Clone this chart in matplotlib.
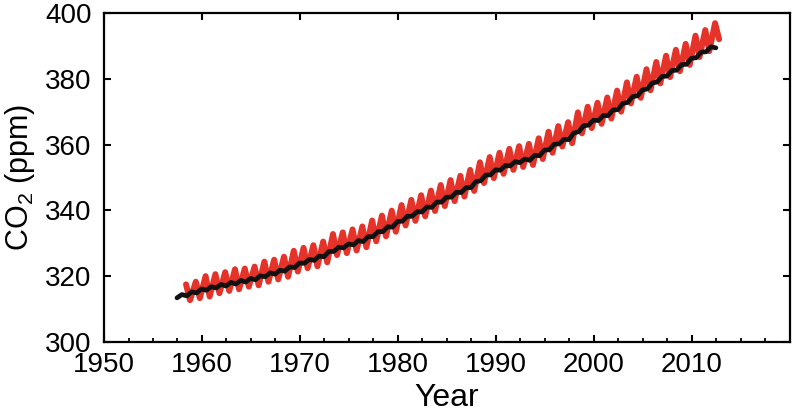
import matplotlib
matplotlib.use("Agg")
import matplotlib.pyplot as plt
from matplotlib.ticker import MultipleLocator

plt.rcParams['font.family'] = ['Liberation Sans', 'DejaVu Sans']
plt.rcParams['mathtext.fontset'] = 'custom'
plt.rcParams['mathtext.rm'] = 'Liberation Sans'
plt.rcParams['mathtext.it'] = 'Liberation Sans'

# Mauna Loa (red): yearly seasonal maximum (~May) and minimum (~Oct), ppm
ml_years = list(range(1958, 2013))
ml_peak = [317.5, 318.3, 320.0, 320.6, 321.2, 322.1, 322.3, 322.9, 324.4, 325.0,
           325.9, 327.7, 328.6, 329.4, 330.5, 332.8, 333.3, 334.2, 335.1, 336.9,
           338.4, 339.9, 341.6, 343.2, 344.6, 346.0, 347.7, 349.2, 350.5, 352.3,
           354.6, 356.2, 357.5, 358.7, 359.5, 360.2, 361.9, 363.9, 365.6, 366.8,
           369.8, 371.5, 372.7, 374.3, 376.4, 378.9, 380.6, 382.9, 385.1, 387.0,
           388.8, 390.6, 393.1, 394.8, 396.9]
ml_trough = [312.7, 313.3, 313.8, 314.8, 315.5, 316.0, 316.8, 317.2, 318.3, 319.0,
             319.8, 321.4, 322.4, 323.0, 324.2, 326.4, 327.0, 327.8, 328.8, 330.6,
             332.1, 333.5, 335.4, 336.8, 338.2, 339.8, 341.3, 342.8, 344.2, 345.9,
             348.3, 349.8, 351.1, 352.3, 353.2, 353.8, 355.6, 357.5, 359.4, 360.4,
             363.4, 365.0, 366.3, 367.9, 370.0, 372.5, 374.2, 376.5, 378.6, 380.5,
             382.3, 384.2, 386.6, 388.4, 392.0]

# South Pole (black): yearly low and high of the small seasonal wiggle, ppm
sp_years = list(range(1957, 2013))
sp_low = [313.4, 314.0, 314.9, 315.7, 316.4, 317.0, 317.6, 318.2, 318.9, 319.8,
          320.6, 321.5, 322.6, 323.9, 324.8, 325.9, 327.5, 328.6, 329.5, 330.5,
          332.0, 333.5, 334.9, 336.7, 338.2, 339.5, 340.9, 342.5, 344.0, 345.4,
          346.9, 349.0, 350.8, 352.2, 353.5, 354.5, 355.2, 356.6, 358.4, 360.2,
          361.5, 363.9, 365.9, 367.3, 368.8, 370.6, 372.8, 374.8, 376.9, 379.0,
          380.8, 382.6, 384.4, 386.4, 388.2, 389.4]
sp_high = [314.4, 315.2, 316.1, 316.8, 317.5, 318.1, 318.7, 319.3, 320.1, 321.0,
           321.8, 322.8, 324.0, 325.1, 326.1, 327.5, 328.8, 329.8, 330.8, 332.0,
           333.5, 335.0, 336.6, 338.2, 339.6, 341.0, 342.5, 344.0, 345.5, 346.9,
           348.7, 350.7, 352.3, 353.6, 354.8, 355.6, 356.7, 358.3, 360.1, 361.6,
           363.5, 365.7, 367.4, 368.8, 370.5, 372.5, 374.6, 376.6, 378.7, 380.7,
           382.5, 384.3, 386.2, 388.1, 389.7]

ML_PEAK_PHASE, ML_TROUGH_PHASE = 0.37, 0.78
SP_LOW_PHASE, SP_HIGH_PHASE = 0.45, 0.95

ml_t, ml_v = [], []
for y, p, t in zip(ml_years, ml_peak, ml_trough):
    ml_t += [y + ML_PEAK_PHASE, y + ML_TROUGH_PHASE]
    ml_v += [p, t]

sp_t, sp_v = [], []
for i, y in enumerate(sp_years):
    sp_t.append(y + SP_LOW_PHASE)
    sp_v.append(sp_low[i])
    if i < len(sp_high):
        sp_t.append(y + SP_HIGH_PHASE)
        sp_v.append(sp_high[i])

fig = plt.figure(figsize=(7.97, 4.18), dpi=100)
ax = fig.add_axes([0.1305, 0.182, 0.8605, 0.787])

ax.plot(ml_t, ml_v, color='#e5332a', lw=4.3, solid_joinstyle='round',
        solid_capstyle='round')
ax.plot(sp_t, sp_v, color='#111111', lw=3.4, solid_joinstyle='round',
        solid_capstyle='round')

ax.set_xlim(1950, 2020)
ax.set_ylim(300, 400)
ax.set_xticks([1950, 1960, 1970, 1980, 1990, 2000, 2010])
ax.set_yticks([300, 320, 340, 360, 380, 400])
ax.xaxis.set_minor_locator(MultipleLocator(2.5))

for s in ax.spines.values():
    s.set_linewidth(1.6)

ax.tick_params(axis='both', which='major', direction='in', length=5, width=1.5,
               labelsize=20)
ax.tick_params(axis='x', which='major', top=True, pad=7)
ax.tick_params(axis='y', which='major', right=True, pad=9)
ax.tick_params(axis='x', which='minor', direction='in', length=3, width=1.3,
               top=False)
ax.tick_params(axis='y', which='minor', left=False, right=False)

ax.set_xlabel('Year', fontsize=23, labelpad=4)
ax.set_ylabel(r'CO$_2$ (ppm)', fontsize=22, labelpad=6)

fig.savefig('out.png', dpi=100)
